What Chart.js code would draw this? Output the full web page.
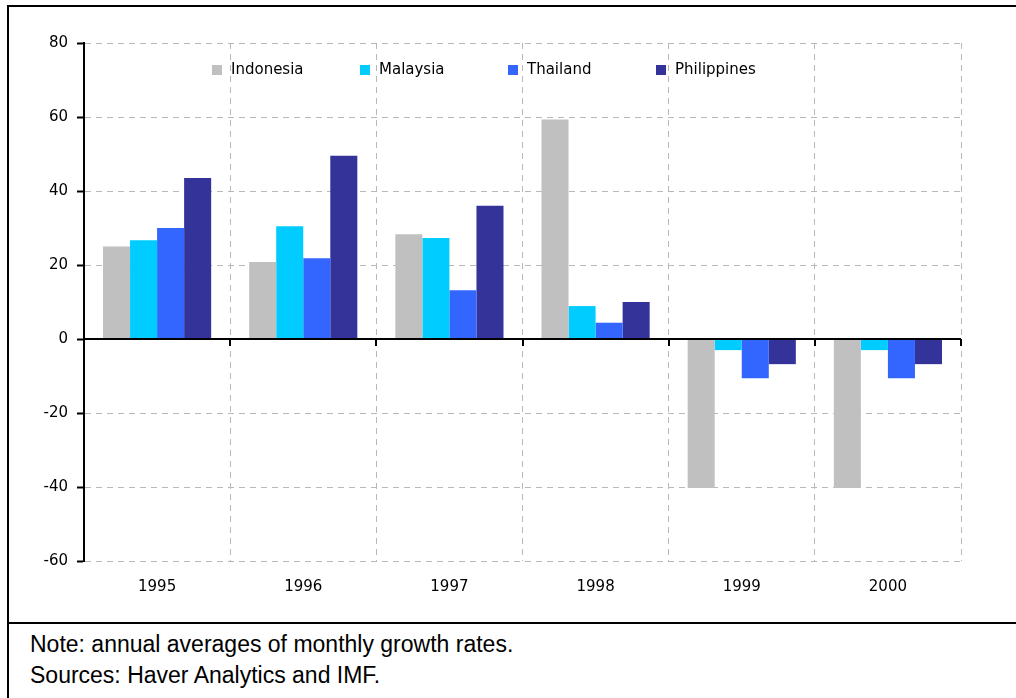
<!DOCTYPE html>
<html>
<head>
<meta charset="utf-8">
<script src="https://cdn.jsdelivr.net/npm/chart.js@4.4.1/dist/chart.umd.min.js"></script>
<style>
    html, body { margin: 0; padding: 0; background: #fff; }
    body { width: 1016px; height: 698px; position: relative; overflow: hidden; font-family: "Liberation Sans", Arial, sans-serif; }
    #chartBox { position: absolute; left: 0; top: 0; width: 1016px; height: 623px; }
    .rule { position: absolute; background: #000; }
    .note { position: absolute; left: 30px; font-size: 23px; color: #000; white-space: nowrap; }
</style>
</head>
<body>
<div id="chartBox"><canvas id="growthChart"></canvas></div>
<div class="rule" style="left:7px; top:5px; width:1009px; height:2px;"></div>
<div class="rule" style="left:7px; top:5px; width:2px; height:693px;"></div>
<div class="rule" style="left:7px; top:622px; width:1009px; height:2px;"></div>
<div class="note" style="top:631px;">Note: annual averages of monthly growth rates.</div>
<div class="note" style="top:662px;">Sources: Haver Analytics and IMF.</div>

<script>
// Chart data
const years = ['1995', '1996', '1997', '1998', '1999', '2000'];
const indonesia = [25, 20.8, 28.3, 59.3, -40.3, -40.3];
const malaysia = [26.7, 30.5, 27.3, 8.9, -3, -3];
const thailand = [30, 21.8, 13.2, 4.4, -10.6, -10.6];
const philippines = [43.5, 49.5, 36, 10, -6.8, -6.8];
const yTicks = [-60, -40, -20, 0, 20, 40, 60, 80];

const tickFont = { family: 'DejaVu Sans', size: 15 };

// legend drawn inside the plot, near the top
const insideLegend = {
    id: 'insideLegend',
    afterDraw(chart) {
        const ctx = chart.ctx;
        const area = chart.chartArea;
        const y = area.top + 27;
        ctx.save();
        ctx.font = '15px "DejaVu Sans"';
        ctx.textBaseline = 'middle';
        chart.data.datasets.forEach((ds, i) => {
            const x = area.left + 128 + i * 148;
            ctx.fillStyle = ds.backgroundColor;
            ctx.fillRect(x, y - 5, 10, 10);
            ctx.fillStyle = '#000';
            ctx.fillText(ds.label, x + 19, y);
        });
        ctx.restore();
    }
};

// solid zero line with small ticks at the category boundaries
const zeroLine = {
    id: 'zeroLine',
    afterDatasetsDraw(chart) {
        const ctx = chart.ctx;
        const area = chart.chartArea;
        const y0 = chart.scales.y.getPixelForValue(0);
        const step = (area.right - area.left) / years.length;
        ctx.save();
        ctx.strokeStyle = '#000';
        ctx.lineWidth = 2;
        ctx.beginPath();
        ctx.moveTo(area.left, y0);
        ctx.lineTo(area.right, y0);
        for (let i = 1; i <= years.length; i++) {
            const x = Math.round(area.left + i * step);
            ctx.moveTo(x, y0);
            ctx.lineTo(x, y0 + 7);
        }
        ctx.stroke();
        ctx.restore();
    }
};

const ctx = document.getElementById('growthChart').getContext('2d');
new Chart(ctx, {
    type: 'bar',
    data: {
        labels: years,
        datasets: [
            { label: 'Indonesia', data: indonesia, backgroundColor: '#c0c0c0' },
            { label: 'Malaysia', data: malaysia, backgroundColor: '#00ccff' },
            { label: 'Thailand', data: thailand, backgroundColor: '#3366ff' },
            { label: 'Philippines', data: philippines, backgroundColor: '#333399' }
        ]
    },
    options: {
        responsive: true,
        maintainAspectRatio: false,
        animation: false,
        datasets: {
            bar: { categoryPercentage: 0.74, barPercentage: 1.0, borderWidth: 0 }
        },
        layout: { padding: { top: 43, right: 55, left: 0, bottom: 0 } },
        plugins: {
            legend: { display: false },
            tooltip: { enabled: false }
        },
        scales: {
            x: {
                offset: true,
                grid: {
                    offset: true,
                    color: '#b8b8b8',
                    lineWidth: 1,
                    drawTicks: false
                },
                border: { display: false, dash: [6, 5] },
                ticks: { color: '#000', font: tickFont, padding: 17 },
                afterFit(scale) { scale.height = 62; }
            },
            y: {
                min: -60,
                max: 80,
                afterBuildTicks(scale) { scale.ticks = yTicks.map(v => ({ value: v })); },
                grid: {
                    color: '#b8b8b8',
                    lineWidth: 1,
                    tickLength: 7,
                    tickColor: '#000',
                    tickWidth: 2,
                    tickBorderDash: []
                },
                border: { display: true, color: '#000', width: 2, dash: [6, 5] },
                ticks: { color: '#000', font: tickFont, padding: 9 },
                afterFit(scale) { scale.width = 84; }
            }
        }
    },
    plugins: [insideLegend, zeroLine]
});
</script>
</body>
</html>
